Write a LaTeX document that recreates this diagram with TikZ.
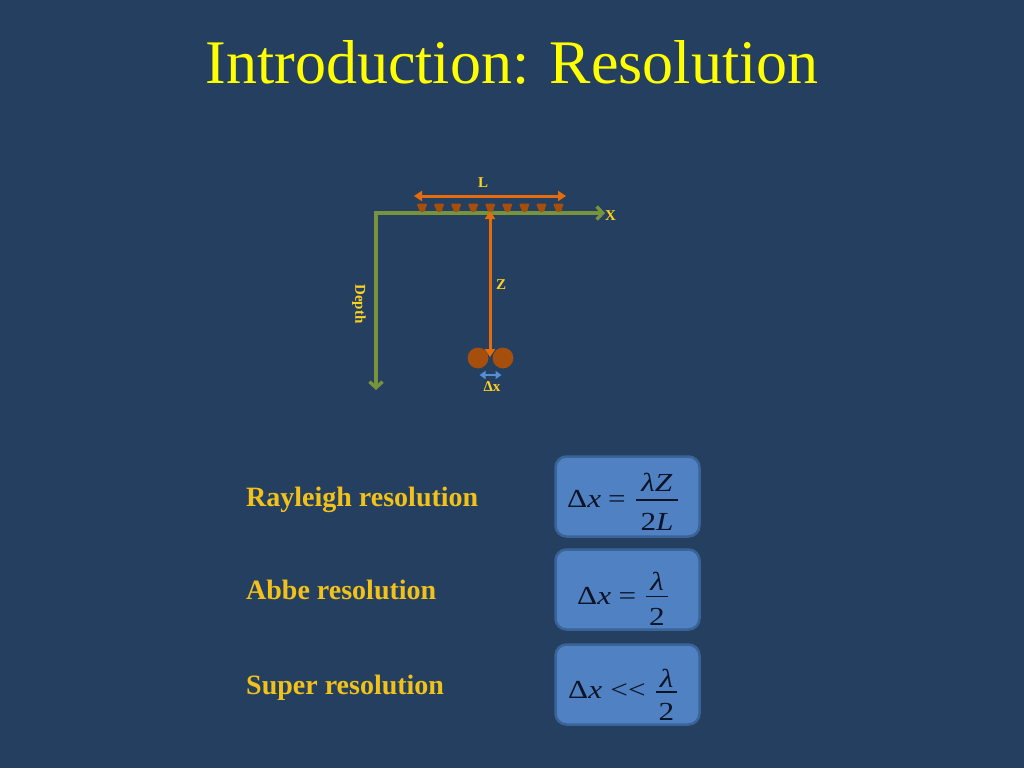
\documentclass[tikz,border=0pt]{standalone}
\usepackage{fontspec}
\usepackage{graphicx}
\setmainfont{Liberation Serif}
\usetikzlibrary{arrows.meta}
\definecolor{bg}{HTML}{243F60}
\definecolor{ttl}{HTML}{FFFF00}
\definecolor{gold}{HTML}{F2C21A}
\definecolor{lbl}{HTML}{FFD21F}
\definecolor{axisgreen}{HTML}{77933C}
\definecolor{orng}{HTML}{E46C0A}
\definecolor{brwn}{HTML}{A64E0C}
\definecolor{arrblue}{HTML}{558ED5}
\definecolor{boxfill}{HTML}{5081C2}
\definecolor{boxedge}{HTML}{3A6497}
\definecolor{formula}{HTML}{0B1426}
\tikzset{
  axisline/.style={draw=axisgreen, line width=3.4pt, {Straight Barb[length=6pt,width=13pt,line width=3.4pt]}-{Straight Barb[length=6pt,width=13pt,line width=3.4pt]}},
  orangearrow/.style={draw=orng, line width=3pt, {Triangle[length=8pt,width=10pt]}-{Triangle[length=8pt,width=10pt]}},
  bluearrow/.style={draw=arrblue, line width=2.5pt, {Triangle[length=6pt,width=8pt]}-{Triangle[length=6pt,width=8pt]}},
  smalllabel/.style={text=lbl, font=\bfseries\fontsize{15}{17}\selectfont, inner sep=0pt},
  restext/.style={text=gold, font=\bfseries\fontsize{28}{32}\selectfont, anchor=base west, inner sep=0pt},
  formulabox/.style={draw=boxedge, line width=2.5pt, fill=boxfill, rounded corners=11pt, minimum width=144pt, minimum height=80pt, inner sep=0pt},
  ftext/.style={text=formula, font=\fontsize{26}{30}\selectfont, inner sep=0pt, anchor=base},
  fbar/.style={draw=formula, line width=1.4pt},
  cup/.style={fill=brwn}
}
\newcommand{\wide}[1]{\scalebox{1.2}[1]{#1}}
\begin{document}
\begin{tikzpicture}[x=1pt,y=-1pt]
\fill[bg] (0,0) rectangle (1024,768);
\useasboundingbox (0,0) rectangle (1024,768);

% title
\node[text=ttl, font=\fontsize{62}{70}\selectfont, anchor=base, inner sep=0pt] (title) at (512,83) {Introduction: Resolution};

% axes
\coordinate (xend) at (605,213);
\coordinate (origin) at (376,213);
\coordinate (dend) at (376,390);
\draw[axisline] (xend) -- (origin) -- (dend);
\node[smalllabel, anchor=west] (xlbl) at (605,215.5) {X};
\node[smalllabel, rotate=-90] (depth) at (359,304) {Depth};

% transducers
\foreach \i in {0,...,8} {
  \fill[cup, rounded corners=1.5pt] ({416.5+17.06*\i},203.5) -- ({427.5+17.06*\i},203.5) -- ({425+17.06*\i},209.5) [sharp corners] arc[start angle=0, end angle=180, x radius=3pt, y radius=-2.5pt] [rounded corners=1.5pt] -- cycle;
}

% L arrow
\coordinate (la) at (414,196);
\coordinate (lb) at (566,196);
\draw[orangearrow] (la) -- (lb);
\node[smalllabel] (llbl) at (483,183) {L};

% targets
\fill[brwn] (478,358) circle[radius=10.4pt] coordinate (t1);
\fill[brwn] (503,358) circle[radius=10.4pt] coordinate (t2);

% Z arrow
\coordinate (za) at (490,211);
\coordinate (zb) at (490,357);
\draw[orangearrow] (za) -- (zb);
\node[smalllabel] (zlbl) at (501,284.5) {Z};

% delta x arrow
\coordinate (da) at (479.5,375);
\coordinate (db) at (501.5,375);
\draw[bluearrow] (da) -- (db);
\node[smalllabel] (dxlbl) at (492,386.5) {Δx};

% resolution texts
\node[restext] (ray) at (246,506) {Rayleigh resolution};
\node[restext] (abbe) at (246,599) {Abbe resolution};
\node[restext] (super) at (246,694) {Super resolution};

% formula boxes
\node[formulabox] (b1) at (627.5,496.5) {};
\node[formulabox] (b2) at (627.5,589.5) {};
\node[formulabox] (b3) at (627.5,684.5) {};

% Rayleigh formula
\node[ftext, anchor=base west] (dx1) at (567,507) {\wide{Δ\textit{x}}};
\node[ftext] (eq1) at (617,507) {\wide{=}};
\coordinate (bar1a) at (636,500);
\coordinate (bar1b) at (678,500);
\draw[fbar] (bar1a) -- (bar1b);
\node[ftext] (num1) at (657,491) {\wide{\textit{λZ}}};
\node[ftext] (den1) at (657,530) {\wide{2\textit{L}}};

% Abbe formula
\node[ftext, anchor=base west] (dx2) at (577,604) {\wide{Δ\textit{x}}};
\node[ftext] (eq2) at (627.5,604) {\wide{=}};
\coordinate (bar2a) at (646,596.5);
\coordinate (bar2b) at (668,596.5);
\draw[fbar] (bar2a) -- (bar2b);
\node[ftext] (num2) at (657,590) {\wide{\textit{λ}}};
\node[ftext] (den2) at (657,625) {\wide{2}};

% Super formula
\node[ftext, anchor=base west] (dx3) at (568,698) {\wide{Δ\textit{x}}};
\node[ftext] (lt3) at (628,698) {\wide{<\kern0pt<}};
\coordinate (bar3a) at (656,692);
\coordinate (bar3b) at (677,692);
\draw[fbar] (bar3a) -- (bar3b);
\node[ftext] (num3) at (666.5,687) {\wide{\textit{λ}}};
\node[ftext] (den3) at (666.5,720) {\wide{2}};
\end{tikzpicture}
\end{document}
